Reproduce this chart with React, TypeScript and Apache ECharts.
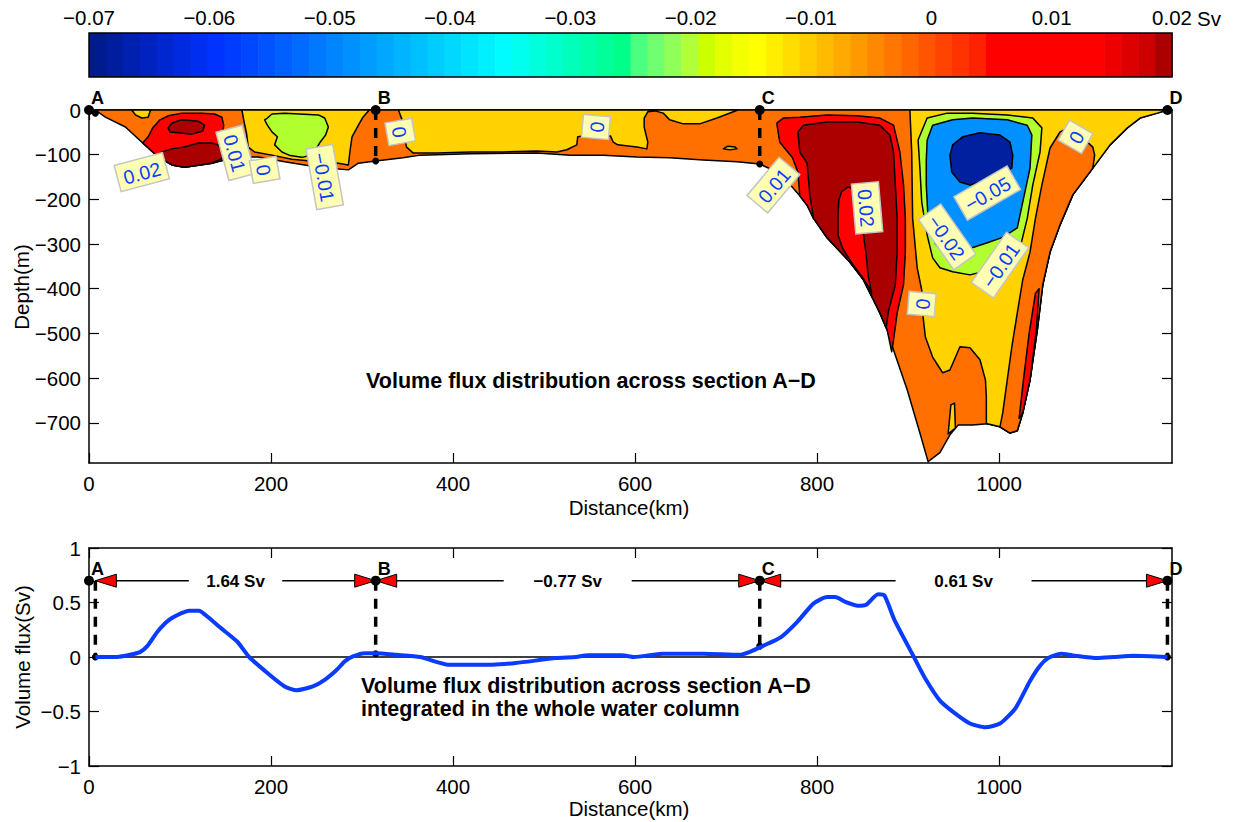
import React, { useEffect, useRef } from 'react';
import * as echarts from 'echarts';

const FONT = '"Liberation Sans", Arial, Helvetica, sans-serif';
const MINUS = '\u2212';

// ---------------- colour bar ----------------
const colorbarMin = -0.07;
const colorbarMax = 0.02;
const colorbarTickValues = [-0.07, -0.06, -0.05, -0.04, -0.03, -0.02, -0.01, 0, 0.01, 0.02];
const colorbarColors = [
  '#001a8f', '#001d9f', '#0020af', '#0023bf', '#0026cf', '#002adf', '#002eef', '#0033ff',
  '#003cff', '#0048ff', '#0054ff', '#0060ff', '#006cff', '#0078ff', '#0084ff', '#0090ff',
  '#009cff', '#00a8ff', '#00b4ff', '#00c0ff', '#00ccff', '#00d8ff', '#00e4ff', '#00f0ff',
  '#00fcff', '#00ffee', '#00ffdd', '#00ffcc', '#00ffbb', '#00ffaa', '#00ff99', '#00ff88',
  '#4cff80', '#70ff70', '#90ff58', '#b0ff38', '#ccff00', '#e4ff00', '#f4ff00', '#ffff00',
  '#ffee00', '#ffdd00', '#ffcc00', '#ffbb00', '#ffaa00', '#ff9900', '#ff8800', '#ff7700',
  '#ff6600', '#ff5500', '#ff4400', '#ff3300', '#ff2200', '#ff0000', '#ff0000', '#ff0000',
  '#ff0000', '#ff0000', '#ff0000', '#ff0000', '#ee0000', '#dd0000', '#cc0000', '#aa0000',
];

// ---------------- axes ----------------
const distanceMin = 0;
const distanceMax = 1190;
const distanceTicks = [0, 200, 400, 600, 800, 1000];
const depthMin = -790;
const depthMax = 0;
const depthTicks = [-700, -600, -500, -400, -300, -200, -100, 0];
const fluxMin = -1;
const fluxMax = 1;

// ---------------- section points ----------------
const sectionNames = ['A', 'B', 'C', 'D'];
const sectionMarkerKm = [0, 315, 737, 1185];
const sectionLineKm = [7, 315, 737, 1185];
const sectionBottomDepth = [-7, -114, -121, 0];

// ---------------- contour regions (km, depth m) ----------------
const sectionOutline = [
  [7, 0], [18, -16], [40, -38], [59, -74], [76, -105], [91, -123], [105, -128], [135, -119], [160, -105],
  [186, -105], [215, -116], [252, -128], [285, -134], [296, -119], [315, -114], [345, -107], [364, -101],
  [419, -98], [492, -96], [529, -101], [565, -101], [602, -105], [638, -107], [675, -112], [712, -116],
  [737, -121], [763, -145], [770, -166], [781, -192], [789, -213], [796, -242], [811, -286], [836, -340],
  [851, -380], [862, -425], [869, -454], [877, -492], [884, -537], [899, -626], [913, -723], [922, -787],
  [935, -767], [946, -727], [955, -705], [971, -705], [987, -702], [1001, -709], [1012, -723], [1020, -718],
  [1026, -678], [1034, -604], [1042, -492], [1048, -391], [1056, -318], [1067, -257], [1081, -190],
  [1103, -130], [1122, -78], [1141, -40], [1155, -18], [1174, -7], [1185, 0],
];
const goldNearA = [[47, 0], [51, -11], [58, -18], [65, -16], [67, -4], [68, 0]];
const redNearA = [
  [59, -74], [65, -60], [70, -40], [78, -22], [87, -13], [102, -7], [124, -7], [138, -9], [146, -16],
  [148, -34], [147, -51], [146, -74], [147, -96], [149, -112], [135, -119], [105, -128], [91, -123], [76, -105],
];
const darkRedNearA1 = [[87, -40], [91, -29], [102, -22], [120, -25], [127, -34], [125, -47], [113, -54], [98, -51], [89, -49]];
const darkRedNearA2 = [
  [80, -94], [91, -87], [105, -83], [120, -74], [135, -74], [142, -78], [146, -89], [147, -108],
  [135, -119], [105, -128], [91, -123], [82, -112],
];
const goldAB = [
  [168, 0], [170, -22], [173, -51], [175, -83], [182, -94], [201, -101], [223, -110], [252, -116],
  [274, -119], [285, -123], [287, -89], [289, -60], [295, -38], [301, -16], [307, -2], [308, 0],
];
const greenAB = [
  [196, -18], [201, -9], [215, -7], [252, -11], [259, -18], [263, -38], [260, -56], [254, -72], [249, -89],
  [246, -100], [234, -106], [221, -102], [212, -94], [204, -78], [207, -60], [201, -49], [196, -34], [193, -22],
];
const goldBC = [
  [340, 0], [344, -22], [345, -51], [349, -83], [356, -96], [382, -96], [419, -94], [455, -94], [492, -92],
  [514, -94], [525, -89], [536, -78], [537, -60], [543, -58], [573, -58], [576, -72], [581, -78], [602, -83],
  [613, -87], [614, -72], [610, -38], [610, -18], [614, -4], [622, -2], [631, -7], [638, -22], [653, -31],
  [671, -31], [690, -18], [708, -4], [713, 0],
];
const goldBlobC = [[697, -87], [702, -81], [710, -83], [712, -87], [704, -89]];
const redC = [
  [756, -29], [763, -18], [781, -16], [811, -11], [844, -13], [869, -18], [884, -34], [891, -94], [895, -168],
  [897, -242], [897, -318], [895, -391], [888, -454], [884, -515], [882, -541], [877, -492], [869, -454],
  [862, -425], [851, -380], [836, -340], [811, -286], [796, -242], [789, -213], [781, -192], [779, -139],
  [773, -107], [759, -72], [756, -34],
];
const darkRedC = [
  [779, -49], [785, -34], [811, -27], [844, -27], [869, -34], [880, -56], [884, -94], [886, -168], [888, -242],
  [888, -318], [886, -391], [878, -454], [876, -488], [869, -454], [862, -425], [851, -380], [836, -340],
  [811, -286], [796, -242], [795, -228], [792, -190], [790, -141], [789, -119], [781, -94],
];
const redInnerC = [
  [827, -183], [834, -172], [842, -179], [845, -201], [847, -235], [851, -280], [854, -324], [856, -369],
  [860, -410], [858, -400], [849, -372], [838, -342], [828, -309], [823, -280], [823, -235], [824, -201],
];
const goldCD = [
  [902, 0], [904, -94], [905, -242], [910, -353], [915, -403], [916, -454], [919, -508], [927, -553],
  [938, -588], [946, -582], [957, -530], [968, -532], [979, -559], [985, -604], [986, -642], [986, -700],
  [987, -702], [1001, -709], [1012, -723], [1020, -718], [1026, -678], [1034, -604], [1042, -492],
  [1048, -391], [1056, -318], [1067, -257], [1081, -190], [1103, -130], [1122, -78], [1141, -40],
  [1155, -18], [1174, -7], [1185, 0],
];
const goldSpike = [[944, -725], [947, -660], [951, -656], [952, -712]];
const orangeRightCD = [
  [1001, -709], [1004, -678], [1009, -604], [1014, -530], [1020, -454], [1026, -380], [1034, -318],
  [1040, -242], [1047, -168], [1056, -85], [1067, -49], [1076, -40], [1081, -45], [1097, -72], [1103, -83],
  [1105, -101], [1103, -130], [1081, -190], [1067, -257], [1056, -318], [1048, -391], [1042, -492],
  [1034, -604], [1026, -678], [1020, -718], [1012, -723],
];
const redRightCD = [[1022, -690], [1027, -600], [1033, -500], [1040, -410], [1044, -400], [1041, -492], [1034, -604], [1026, -678]];
const greenCD = [
  [911, -67], [921, -18], [943, -7], [971, -7], [1009, -11], [1037, -18], [1047, -40], [1045, -94],
  [1037, -168], [1031, -242], [1023, -309], [1009, -340], [990, -358], [968, -369], [949, -362],
  [935, -353], [927, -331], [921, -280], [915, -206], [913, -130],
];
const blueCD = [
  [921, -67], [927, -34], [949, -22], [971, -18], [1009, -22], [1031, -34], [1036, -56], [1034, -130],
  [1026, -206], [1020, -264], [1004, -285], [987, -297], [968, -310], [954, -325], [941, -322], [930, -300],
  [922, -246], [920, -168], [920, -112],
];
const navyCD = [
  [946, -101], [949, -78], [960, -60], [979, -51], [1001, -56], [1012, -72], [1015, -101], [1014, -130],
  [1001, -145], [979, -161], [968, -168], [957, -161], [948, -139],
];

const ORANGE = '#ff7000';
const GOLD = '#ffd200';
const GREEN = '#b2ff30';
const BLUE = '#0090ff';
const NAVY = '#0020a0';
const RED = '#ff0000';
const DARK_RED = '#aa0000';

const contourRegions = [
  { pts: sectionOutline, fill: ORANGE },
  { pts: goldNearA, fill: GOLD },
  { pts: redNearA, fill: RED },
  { pts: darkRedNearA1, fill: DARK_RED },
  { pts: darkRedNearA2, fill: DARK_RED },
  { pts: goldAB, fill: GOLD },
  { pts: greenAB, fill: GREEN },
  { pts: goldBC, fill: GOLD },
  { pts: goldBlobC, fill: GOLD },
  { pts: redC, fill: RED },
  { pts: darkRedC, fill: DARK_RED },
  { pts: redInnerC, fill: RED },
  { pts: goldCD, fill: GOLD },
  { pts: goldSpike, fill: GOLD },
  { pts: orangeRightCD, fill: ORANGE },
  { pts: redRightCD, fill: RED },
  { pts: greenCD, fill: GREEN },
  { pts: blueCD, fill: BLUE },
  { pts: navyCD, fill: NAVY },
];

// ---------------- contour labels ----------------
const contourLabelText = ['0.02', '0.01', '0', MINUS + '0.01', '0', '0', '0.01', '0.02', MINUS + '0.05', MINUS + '0.02', MINUS + '0.01', '0', '0'];
const contourLabelKm = [58, 161, 193, 259, 342, 557, 752, 855, 987, 943, 1001, 915, 1084];
const contourLabelDepth = [-139, -96, -134, -150, -49, -38, -168, -219, -186, -284, -347, -434, -60];
const contourLabelAngle = [15, -75, -80, -80, -80, 85, 50, -85, 30, -55, 55, 85, 60];

// ---------------- integrated flux ----------------
const fluxKm = [
  7, 31, 45, 56, 64, 75, 88, 101, 110, 121, 128, 145, 163, 176, 198, 215, 228, 246, 259, 272,
  281, 290, 303, 315, 338, 364, 395, 443, 469, 513, 535, 548, 586, 599, 630, 675, 715, 727, 740, 760,
  778, 796, 811, 820, 831, 845, 854, 867, 874, 885, 907, 919, 935, 952, 968, 985, 1001, 1018, 1034, 1045,
  1054, 1068, 1081, 1108, 1126, 1148, 1185,
];
const fluxSv = [
  0, 0, 0.02, 0.045, 0.1, 0.23, 0.34, 0.4, 0.425, 0.425, 0.385, 0.265, 0.14, 0, -0.16, -0.27, -0.305, -0.27, -0.21, -0.12,
  -0.04, 0.005, 0.035, 0.035, 0.02, 0, -0.07, -0.07, -0.055, -0.01, 0, 0.015, 0.015, 0, 0.03, 0.03, 0.02, 0.05, 0.1, 0.18,
  0.32, 0.49, 0.55, 0.55, 0.505, 0.47, 0.48, 0.575, 0.565, 0.34, -0.01, -0.2, -0.4, -0.52, -0.61, -0.645, -0.61, -0.47, -0.22, -0.08,
  -0.01, 0.03, 0.015, -0.01, 0, 0.012, 0,
];
const sectionFluxSv = [0, 0.03, 0.1, 0];
const transportSv = [1.64, -0.77, 0.61];
const transportLevel = 0.7;

// ---------------- helpers ----------------
const fmt = (v: number) => {
  const r = Math.round(v * 1000) / 1000;
  return r < 0 ? MINUS + String(-r) : String(r);
};

let measureCtx: CanvasRenderingContext2D | null = null;
function textWidth(text: string, font: string) {
  if (!measureCtx) measureCtx = document.createElement('canvas').getContext('2d');
  if (!measureCtx) return text.length * 10;
  measureCtx.font = font;
  return measureCtx.measureText(text).width;
}

const TICK_FONT = 20.5;
const TITLE_FONT = 21.5;
const axisLabelBase = { color: '#000', fontSize: TICK_FONT, fontFamily: FONT };
const lineStyleBlack = { color: '#000', width: 1.5 };

function boxX(gridIndex: number, position: string, showLabel: boolean) {
  return {
    type: 'value', gridIndex, min: distanceMin, max: distanceMax, position,
    axisLine: { show: true, onZero: false, lineStyle: lineStyleBlack },
    axisTick: { show: true, inside: true, length: 10, customValues: distanceTicks, lineStyle: { color: '#000', width: 1.2 } },
    axisLabel: { show: showLabel, ...axisLabelBase, margin: 10, customValues: distanceTicks, formatter: fmt },
    splitLine: { show: false },
  };
}

function boxY(gridIndex: number, position: string, showLabel: boolean, min: number, max: number, ticks: number[]) {
  return {
    type: 'value', gridIndex, min, max, position,
    axisLine: { show: true, onZero: false, lineStyle: lineStyleBlack },
    axisTick: { show: true, inside: true, length: 10, customValues: ticks, lineStyle: { color: '#000', width: 1.2 } },
    axisLabel: { show: showLabel, ...axisLabelBase, margin: 8, customValues: ticks, formatter: fmt },
    splitLine: { show: false },
  };
}

const fluxTicks = [-1, -0.5, 0, 0.5, 1];

function buildOption() {
  const step = (colorbarMax - colorbarMin) / colorbarColors.length;
  const txt = (x: number, y: number, text: string, opts: any = {}) => ({
    type: 'text', x, y, rotation: opts.rotation || 0,
    style: {
      text, fontSize: opts.size || TICK_FONT, fontWeight: opts.bold ? 'bold' : 'normal', fontFamily: FONT,
      fill: '#000', align: opts.align || 'center', verticalAlign: 'middle',
    },
  });
  return {
    animation: false,
    backgroundColor: '#fff',
    grid: [
      { left: 89, top: 33, width: 1083, height: 44 },
      { left: 89, top: 110, width: 1083, height: 353 },
      { left: 89, top: 548, width: 1083, height: 218 },
    ],
    xAxis: [
      {
        type: 'value', gridIndex: 0, min: colorbarMin, max: colorbarMax, position: 'top',
        axisLine: { show: false }, axisTick: { show: false }, splitLine: { show: false },
        axisLabel: { ...axisLabelBase, margin: 5, customValues: colorbarTickValues, formatter: fmt },
      },
      boxX(1, 'bottom', true),
      boxX(1, 'top', false),
      boxX(2, 'bottom', true),
      boxX(2, 'top', false),
    ],
    yAxis: [
      { type: 'value', gridIndex: 0, min: 0, max: 1, show: false },
      boxY(1, 'left', true, depthMin, depthMax, depthTicks),
      boxY(1, 'right', false, depthMin, depthMax, depthTicks),
      boxY(2, 'left', true, fluxMin, fluxMax, fluxTicks),
      boxY(2, 'right', false, fluxMin, fluxMax, fluxTicks),
    ],
    graphic: [
      txt(1197, 18, 'Sv', { align: 'left' }),
      txt(21, 287, 'Depth(m)', { rotation: Math.PI / 2 }),
      txt(629, 507, 'Distance(km)'),
      txt(22, 657, 'Volume flux(Sv)', { rotation: Math.PI / 2 }),
      txt(629, 808, 'Distance(km)'),
      txt(591, 381, 'Volume flux distribution across section A' + MINUS + 'D', { bold: true, size: TITLE_FONT }),
      txt(361, 686, 'Volume flux distribution across section A' + MINUS + 'D', { bold: true, size: TITLE_FONT, align: 'left' }),
      txt(361, 709, 'integrated in the whole water column', { bold: true, size: TITLE_FONT, align: 'left' }),
    ],
    series: [
      // colour bar cells
      {
        type: 'custom', xAxisIndex: 0, yAxisIndex: 0, silent: true,
        data: colorbarColors.map((c, i) => [colorbarMin + i * step, 0.5, i]),
        renderItem: (params: any, api: any) => {
          const i = params.dataIndex;
          const lo = colorbarMin + i * step;
          const p0 = api.coord([lo, 1]);
          const p1 = api.coord([lo + step, 0]);
          return {
            type: 'rect',
            shape: { x: p0[0], y: p0[1], width: p1[0] - p0[0] + 0.6, height: p1[1] - p0[1] },
            style: { fill: colorbarColors[i], stroke: null },
          };
        },
      },
      // colour bar frame
      {
        type: 'custom', xAxisIndex: 0, yAxisIndex: 0, silent: true,
        data: [[colorbarMin, 0.5]],
        renderItem: (params: any, api: any) => {
          const p0 = api.coord([colorbarMin, 1]);
          const p1 = api.coord([colorbarMax, 0]);
          return {
            type: 'rect',
            shape: { x: p0[0], y: p0[1], width: p1[0] - p0[0], height: p1[1] - p0[1] },
            style: { fill: 'none', stroke: '#000', lineWidth: 1.5 },
          };
        },
      },
      // filled contour regions
      {
        type: 'custom', xAxisIndex: 1, yAxisIndex: 1, silent: true,
        data: contourRegions.map((r, i) => [r.pts[0][0], r.pts[0][1], i]),
        renderItem: (params: any, api: any) => {
          const r = contourRegions[params.dataIndex];
          return {
            type: 'polygon',
            shape: { points: r.pts.map((p) => api.coord(p)) },
            style: { fill: r.fill, stroke: '#000', lineWidth: 1.5, lineJoin: 'round' },
          };
        },
      },
      // section markers on the depth section
      {
        type: 'custom', xAxisIndex: 1, yAxisIndex: 1, silent: true,
        data: sectionNames.map((n, i) => [sectionMarkerKm[i], 0, i]),
        renderItem: (params: any, api: any) => {
          const i = params.dataIndex;
          const pDot = api.coord([sectionMarkerKm[i], 0]);
          const pTop = api.coord([sectionLineKm[i], 0]);
          const pBot = api.coord([sectionLineKm[i], sectionBottomDepth[i]]);
          const children: any[] = [];
          if (sectionBottomDepth[i] < 0) {
            children.push({ type: 'line', shape: { x1: pTop[0], y1: pTop[1], x2: pBot[0], y2: pBot[1] }, style: { stroke: '#000', lineWidth: 3.5, lineDash: [10, 8] } });
            children.push({ type: 'circle', shape: { cx: pBot[0], cy: pBot[1], r: 3.5 }, style: { fill: '#000' } });
          }
          children.push({ type: 'circle', shape: { cx: pDot[0], cy: pDot[1], r: 5 }, style: { fill: '#000' } });
          children.push({ type: 'text', x: pDot[0] + 2, y: pDot[1] - 3, style: { text: sectionNames[i], fontSize: 18, fontWeight: 'bold', fontFamily: FONT, fill: '#000', align: 'left', verticalAlign: 'bottom' } });
          return { type: 'group', children };
        },
      },
      // contour labels
      {
        type: 'custom', xAxisIndex: 1, yAxisIndex: 1, silent: true,
        data: contourLabelText.map((t, i) => [contourLabelKm[i], contourLabelDepth[i], i]),
        renderItem: (params: any, api: any) => {
          const i = params.dataIndex;
          const p = api.coord([contourLabelKm[i], contourLabelDepth[i]]);
          const text = contourLabelText[i];
          const w = textWidth(text, `19.5px ${FONT}`) + 12;
          const h = 27;
          return {
            type: 'group', x: p[0], y: p[1], rotation: (contourLabelAngle[i] * Math.PI) / 180,
            children: [
              { type: 'rect', shape: { x: -w / 2, y: -h / 2, width: w, height: h }, style: { fill: '#ffffb4', stroke: '#c4c4c4', lineWidth: 1.5 } },
              { type: 'text', x: 0, y: 1, style: { text, fontSize: 19.5, fontFamily: FONT, fill: '#0a3cff', align: 'center', verticalAlign: 'middle' } },
            ],
          };
        },
      },
      // transport annotations on the integrated-flux panel
      {
        type: 'custom', xAxisIndex: 3, yAxisIndex: 3, silent: true,
        data: sectionNames.map((n, i) => [sectionMarkerKm[i], transportLevel, i]),
        renderItem: (params: any, api: any) => {
          const i = params.dataIndex;
          const lvl = transportLevel;
          const children: any[] = [];
          if (i === 0) {
            const z0 = api.coord([sectionLineKm[0], 0]);
            const z1 = api.coord([sectionLineKm[sectionLineKm.length - 1], 0]);
            children.push({ type: 'line', shape: { x1: z0[0], y1: z0[1], x2: z1[0], y2: z1[1] }, style: { stroke: '#000', lineWidth: 1.5 } });
          }
          const pTop = api.coord([sectionLineKm[i], lvl]);
          const pBot = api.coord([sectionLineKm[i], sectionFluxSv[i]]);
          const pDot = api.coord([sectionMarkerKm[i], lvl]);
          children.push({ type: 'line', shape: { x1: pTop[0], y1: pTop[1], x2: pBot[0], y2: pBot[1] }, style: { stroke: '#000', lineWidth: 3.5, lineDash: [10, 8] } });
          if (i < sectionLineKm.length - 1) {
            const a = sectionLineKm[i];
            const b = sectionLineKm[i + 1];
            const L = b - a;
            const pa = api.coord([a, lvl]);
            const pa2 = api.coord([a + L / 3, lvl]);
            const pb2 = api.coord([b - L / 3, lvl]);
            const pb = api.coord([b, lvl]);
            const pm = api.coord([(a + b) / 2, lvl]);
            const y = pa[1];
            children.push({ type: 'line', shape: { x1: pa[0], y1: y, x2: pa2[0], y2: y }, style: { stroke: '#000', lineWidth: 1.5 } });
            children.push({ type: 'line', shape: { x1: pb2[0], y1: y, x2: pb[0], y2: y }, style: { stroke: '#000', lineWidth: 1.5 } });
            children.push({ type: 'polygon', shape: { points: [[pa[0], y], [pa[0] + 21, y - 6.5], [pa[0] + 21, y + 6.5]] }, style: { fill: '#ff0000', stroke: '#000', lineWidth: 1 } });
            children.push({ type: 'polygon', shape: { points: [[pb[0], y], [pb[0] - 21, y - 6.5], [pb[0] - 21, y + 6.5]] }, style: { fill: '#ff0000', stroke: '#000', lineWidth: 1 } });
            children.push({ type: 'text', x: pm[0], y: y + 1, style: { text: fmt(transportSv[i]) + ' Sv', fontSize: 17, fontWeight: 'bold', fontFamily: FONT, fill: '#000', align: 'center', verticalAlign: 'middle' } });
          }
          children.push({ type: 'circle', shape: { cx: pBot[0], cy: pBot[1], r: 3.5 }, style: { fill: '#000' } });
          children.push({ type: 'circle', shape: { cx: pDot[0], cy: pDot[1], r: 5 }, style: { fill: '#000' } });
          children.push({ type: 'text', x: pDot[0] + 2, y: pDot[1] - 3, style: { text: sectionNames[i], fontSize: 18, fontWeight: 'bold', fontFamily: FONT, fill: '#000', align: 'left', verticalAlign: 'bottom' } });
          return { type: 'group', children };
        },
      },
      // integrated volume flux
      {
        type: 'line', xAxisIndex: 3, yAxisIndex: 3, silent: true,
        data: fluxKm.map((k, i) => [k, fluxSv[i]]),
        showSymbol: false, symbol: 'none', smooth: 0.2,
        lineStyle: { color: '#0a3cff', width: 4 },
        z: 3,
      },
    ],
  };
}

export default function App() {
  const ref = useRef<HTMLDivElement>(null);
  useEffect(() => {
    document.body.style.margin = '0';
    const chart = echarts.init(ref.current as HTMLDivElement, null, { renderer: 'svg' });
    chart.setOption(buildOption() as any);
    return () => chart.dispose();
  }, []);
  return <div ref={ref} style={{ width: 1237, height: 822 }} />;
}
